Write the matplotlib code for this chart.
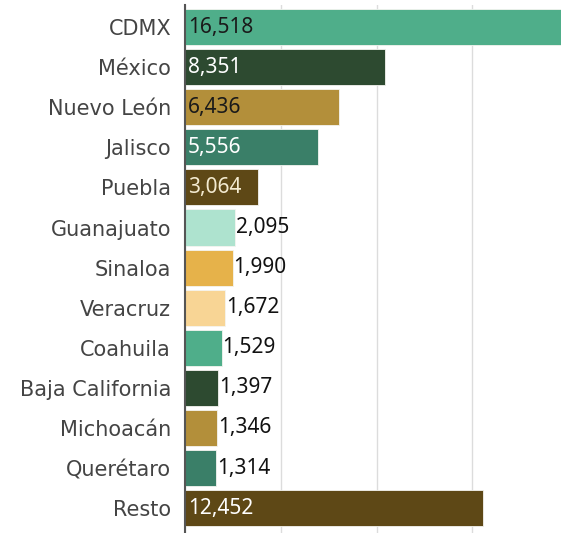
import matplotlib
matplotlib.use("Agg")
import matplotlib.pyplot as plt
from matplotlib.ticker import MultipleLocator

categories = ["CDMX", "México", "Nuevo León", "Jalisco", "Puebla", "Guanajuato",
              "Sinaloa", "Veracruz", "Coahuila", "Baja California", "Michoacán",
              "Querétaro", "Resto"]
values = [16518, 8351, 6436, 5556, 3064, 2095, 1990, 1672, 1529, 1397, 1346, 1314, 12452]
colors = ["#4fae8a", "#2d4a30", "#b38f3a", "#3a7f68", "#5e4816", "#aee3cf",
          "#e6b24a", "#f8d595", "#4fae8a", "#2d4a30", "#b38f3a", "#3a7f68", "#5e4816"]
inside = [True, True, True, True, True, False, False, False, False, False, False, False, True]
inside_text = ["#1a1a1a", "#ffffff", "#1a1a1a", "#ffffff", "#f3ead0", None, None,
               None, None, None, None, None, "#ffffff"]

plt.rcParams['font.family'] = ['DejaVu Sans']

fig = plt.figure(figsize=(5.61, 5.33), dpi=100)
ax = fig.add_axes([185/561, 0, 1 - 185/561, 1 - 5/533])

y = list(range(len(categories)))
ax.barh(y, values, height=0.9, color=colors, edgecolor="#f4f4f0", linewidth=0.6, zorder=3)

ax.set_xlim(0, 15700)
ax.set_ylim(12.62, -0.55)
ax.xaxis.set_major_locator(MultipleLocator(4000))
ax.grid(axis="x", color="#dcdcdc", linewidth=1, zorder=0)
ax.set_axisbelow(True)
ax.tick_params(axis="x", length=0, labelbottom=False)
ax.tick_params(axis="y", length=0, pad=10)
ax.set_yticks(y)
ax.set_yticklabels(categories, fontsize=15, color="#444444")
for s in ["top", "right", "bottom"]:
    ax.spines[s].set_visible(False)
ax.spines["left"].set_color("#555555")
ax.spines["left"].set_linewidth(1.5)
ax.spines["left"].set_zorder(5)

vfont = dict(family=["Noto Sans", "DejaVu Sans"], fontsize=15, fontweight="medium")
for i, (v, ins) in enumerate(zip(values, inside)):
    label = f"{v:,}"
    if ins:
        ax.text(130, i, label, va="center", ha="left",
                color=inside_text[i], zorder=6, **vfont)
    else:
        ax.text(v + 40, i, label, va="center", ha="left",
                color="#111111", zorder=6, **vfont)

fig.savefig("out.png", dpi=100)
